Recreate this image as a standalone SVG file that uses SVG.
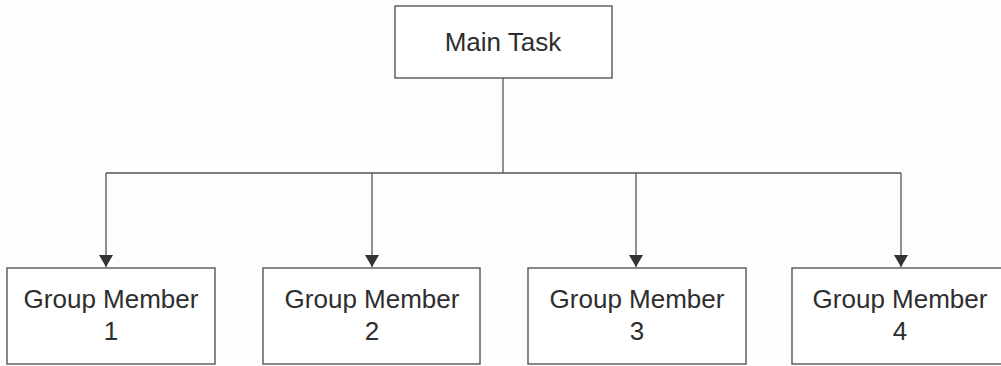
<svg xmlns="http://www.w3.org/2000/svg" width="1001" height="366" viewBox="0 0 1001 366">
<defs>
<style>
.box{fill:#ffffff;stroke:#555;stroke-width:1.4}
.lbl{font-family:"Liberation Sans",Arial,sans-serif;font-size:26px;fill:#2e2e2e;text-anchor:middle}
.edge{fill:none;stroke:#555;stroke-width:1.3}
</style>
<marker id="arr" viewBox="0 0 12 14" refX="12" refY="7" markerWidth="12" markerHeight="14" markerUnits="userSpaceOnUse" orient="auto">
<path d="M0,0 L12,7 L0,14 Z" fill="#333"/>
</marker>
</defs>
<rect width="1001" height="366" fill="#fdfdfd"/>
<g id="connectors">
<path class="edge" d="M503,78 V173"/>
<path class="edge" d="M106,173 H901"/>
<path class="edge" d="M106,173 V267" marker-end="url(#arr)"/>
<path class="edge" d="M372,173 V267" marker-end="url(#arr)"/>
<path class="edge" d="M636,173 V267" marker-end="url(#arr)"/>
<path class="edge" d="M901,173 V267" marker-end="url(#arr)"/>
</g>
<g id="main-task">
<rect class="box" x="395" y="6" width="217" height="72"/>
<text class="lbl" x="503" y="51">Main Task</text>
</g>
<g id="member-1">
<rect class="box" x="7" y="268" width="208" height="96"/>
<text class="lbl" x="111" y="308">Group Member</text>
<text class="lbl" x="111" y="340">1</text>
</g>
<g id="member-2">
<rect class="box" x="263" y="268" width="217" height="96"/>
<text class="lbl" x="372" y="308">Group Member</text>
<text class="lbl" x="372" y="340">2</text>
</g>
<g id="member-3">
<rect class="box" x="528" y="268" width="218" height="96"/>
<text class="lbl" x="637" y="308">Group Member</text>
<text class="lbl" x="637" y="340">3</text>
</g>
<g id="member-4">
<rect class="box" x="792" y="268" width="216" height="96"/>
<text class="lbl" x="900" y="308">Group Member</text>
<text class="lbl" x="900" y="340">4</text>
</g>
</svg>
